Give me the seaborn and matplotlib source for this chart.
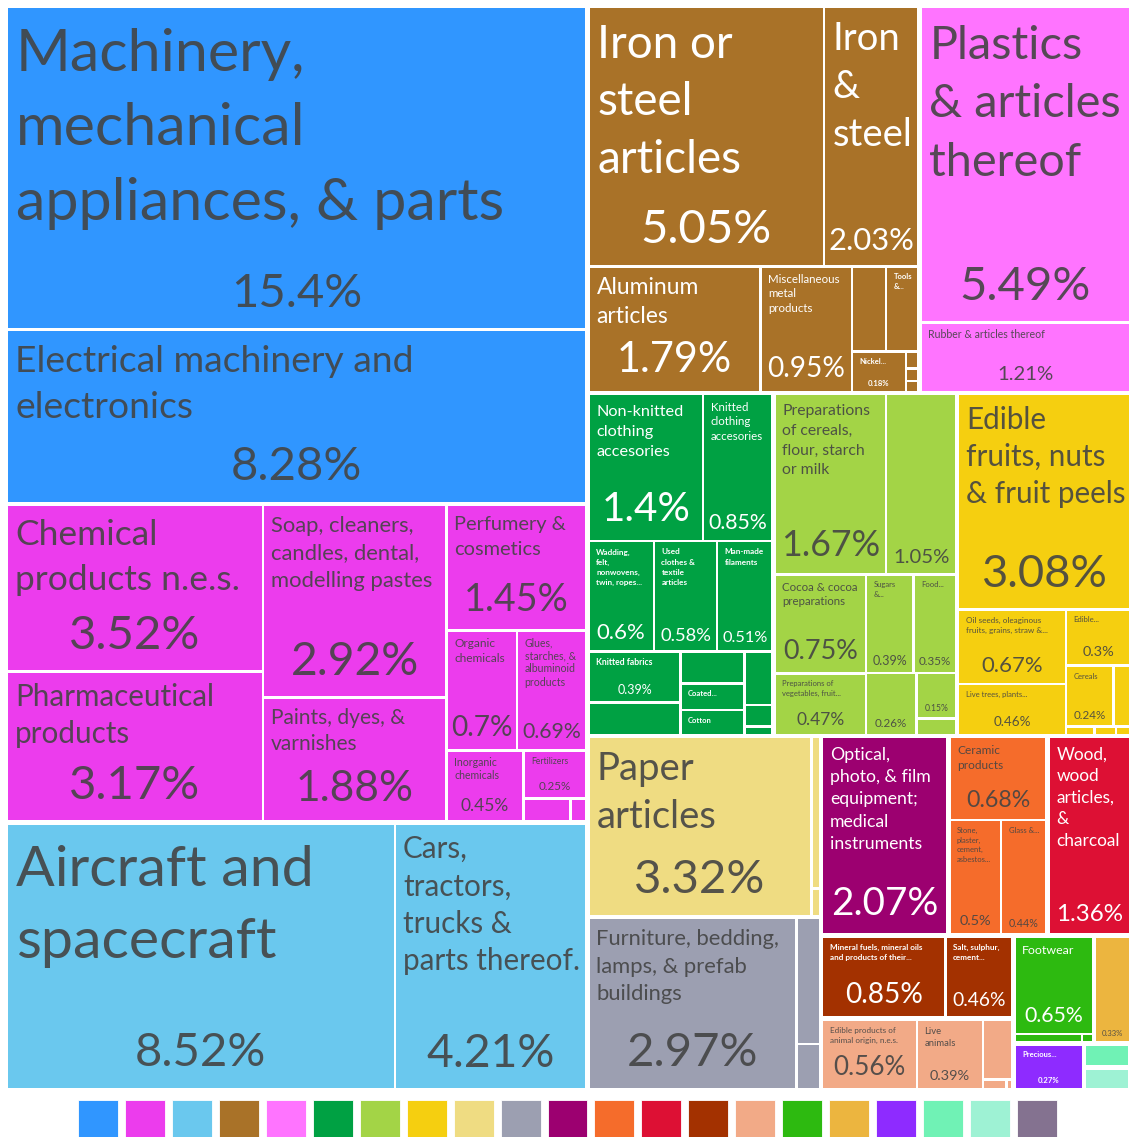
import matplotlib
matplotlib.use("Agg")
import matplotlib.pyplot as plt
import numpy as np
import pandas as pd
import seaborn as sns
from matplotlib.patches import Rectangle

# ---------------- data ----------------
sections = ["Machinery", "Chemical Products", "Transportation", "Metals",
            "Plastics and Rubbers", "Textiles", "Foodstuffs", "Vegetable Products",
            "Paper Goods", "Miscellaneous", "Instruments", "Stone And Glass",
            "Wood Products", "Mineral Products", "Animal Products",
            "Footwear and Headwear", "Animal Hides", "Precious Metals",
            "Arts and Antiques", "Weapons", "Animal and Vegetable Bi-Products"]
section_colors = ["#3096ff", "#ec3ced", "#6ac8ee", "#a97228", "#ff74ff", "#00a143",
                  "#a3d446", "#f5cf10", "#efdc82", "#9c9fb1", "#9c0070", "#f56c2b",
                  "#dd1034", "#a33100", "#f2aa87", "#2dba10", "#ecb53f", "#8e2bff",
                  "#70f2b5", "#9ef2d4", "#847290"]

machinery_names = ["Machinery, mechanical appliances, & parts",
                   "Electrical machinery and electronics"]
machinery_values = [15.4, 8.28]

chemical_names = ["Chemical products n.e.s.", "Pharmaceutical products",
                  "Soap, cleaners, candles, dental, modelling pastes",
                  "Paints, dyes, & varnishes", "Perfumery & cosmetics",
                  "Organic chemicals", "Glues, starches, & albuminoid products",
                  "Inorganic chemicals", "Fertilizers", "Explosives & pyrotechnics",
                  "Photographic goods"]
chemical_values = [3.52, 3.17, 2.92, 1.88, 1.45, 0.7, 0.69, 0.45, 0.25, 0.09, 0.03]

transport_names = ["Aircraft and spacecraft", "Cars, tractors, trucks & parts thereof."]
transport_values = [8.52, 4.21]

metal_names = ["Iron or steel articles", "Iron & steel", "Aluminum articles",
               "Miscellaneous metal products", "Copper articles",
               "Tools & cutlery of base metal", "Nickel & articles thereof",
               "Zinc articles", "Tin articles", "Lead articles"]
metal_values = [5.05, 2.03, 1.79, 0.95, 0.24, 0.23, 0.18, 0.018, 0.013, 0.012]

plastic_names = ["Plastics & articles thereof", "Rubber & articles thereof"]
plastic_values = [5.49, 1.21]

textile_names = ["Non-knitted clothing accesories", "Knitted clothing accesories",
                 "Wadding, felt, nonwovens, twine, ropes & cables",
                 "Used clothes & textile articles", "Man-made filaments",
                 "Knitted fabrics", "Man-made staple fibres", "Carpets",
                 "Coated, impregnated or laminated textile fabrics", "Cotton",
                 "Special woven fabrics", "Wool", "Silk"]
textile_values = [1.4, 0.85, 0.6, 0.58, 0.51, 0.39, 0.25, 0.17, 0.14, 0.135,
                  0.125, 0.05, 0.02]

foodstuff_names = ["Preparations of cereals, flour, starch or milk",
                   "Miscellaneous edible preparations", "Cocoa & cocoa preparations",
                   "Preparations of vegetables, fruit, nuts",
                   "Sugars & sugar confectionery",
                   "Food industry residues & animal fodder",
                   "Beverages, spirits & vinegar", "Preparations of meat & fish",
                   "Tobacco"]
foodstuff_values = [1.67, 1.05, 0.75, 0.47, 0.39, 0.35, 0.26, 0.15, 0.056]

vegetable_names = ["Edible fruits, nuts & fruit peels",
                   "Oil seeds, oleaginous fruits, grains, straw & fodder",
                   "Live trees, plants, bulbs, roots, cut flowers",
                   "Edible vegetables", "Cereals", "Coffee, tea, mate & spices",
                   "Milling products", "Lac, gums & resins", "Vegetable plaiting materials"]
vegetable_values = [3.08, 0.67, 0.46, 0.3, 0.24, 0.085, 0.02, 0.015, 0.01]

paper_names = ["Paper articles", "Printed books", "Pulp of wood"]
paper_values = [3.32, 0.11, 0.02]

misc_names = ["Furniture, bedding, lamps, & prefab buildings",
              "Miscellaneous manufactured articles", "Toys & sports equipment"]
misc_values = [2.97, 0.25, 0.09]

instrument_names = ["Optical, photo, & film equipment; medical instruments"]
instrument_values = [2.07]

stone_names = ["Ceramic products", "Stone, plaster, cement, asbestos & mica articles",
               "Glass & glassware"]
stone_values = [0.68, 0.5, 0.44]

wood_names = ["Wood, wood articles, & charcoal"]
wood_values = [1.36]

mineral_names = ["Mineral fuels, mineral oils and products of their distillation",
                 "Salt, sulphur, cement & lime"]
mineral_values = [0.85, 0.46]

animal_names = ["Edible products of animal origin, n.e.s.", "Live animals",
                "Meat & edible offal", "Dairy products", "Fish"]
animal_values = [0.56, 0.39, 0.15, 0.02, 0.005]

footwear_names = ["Footwear", "Headwear", "Umbrellas"]
footwear_values = [0.65, 0.05, 0.008]

hides_names = ["Raw hides, skins & leather articles"]
hides_values = [0.33]

precious_names = ["Precious stones & metals"]
precious_values = [0.27]

arts_names = ["Works of art & antiques"]
arts_values = [0.09]

weapons_names = ["Arms & ammunition"]
weapons_values = [0.085]

biproducts_names = ["Animal & vegetable fats and oils"]
biproducts_values = [0.005]

section_products = {
    "Machinery": (machinery_names, machinery_values),
    "Chemical Products": (chemical_names, chemical_values),
    "Transportation": (transport_names, transport_values),
    "Metals": (metal_names, metal_values),
    "Plastics and Rubbers": (plastic_names, plastic_values),
    "Textiles": (textile_names, textile_values),
    "Foodstuffs": (foodstuff_names, foodstuff_values),
    "Vegetable Products": (vegetable_names, vegetable_values),
    "Paper Goods": (paper_names, paper_values),
    "Miscellaneous": (misc_names, misc_values),
    "Instruments": (instrument_names, instrument_values),
    "Stone And Glass": (stone_names, stone_values),
    "Wood Products": (wood_names, wood_values),
    "Mineral Products": (mineral_names, mineral_values),
    "Animal Products": (animal_names, animal_values),
    "Footwear and Headwear": (footwear_names, footwear_values),
    "Animal Hides": (hides_names, hides_values),
    "Precious Metals": (precious_names, precious_values),
    "Arts and Antiques": (arts_names, arts_values),
    "Weapons": (weapons_names, weapons_values),
    "Animal and Vegetable Bi-Products": (biproducts_names, biproducts_values),
}

# ---------------- label presentation (text wrapping, font px) ----------------
label_style = {
    "Machinery, mechanical appliances, & parts": ("Machinery,\nmechanical\nappliances, & parts", 62, 49),
    "Electrical machinery and electronics": ("Electrical machinery and\nelectronics", 39, 49),
    "Chemical products n.e.s.": ("Chemical\nproducts n.e.s.", 37, 49),
    "Pharmaceutical products": ("Pharmaceutical\nproducts", 31, 49),
    "Soap, cleaners, candles, dental, modelling pastes": ("Soap, cleaners,\ncandles, dental,\nmodelling pastes", 23, 48),
    "Paints, dyes, & varnishes": ("Paints, dyes, &\nvarnishes", 22, 44),
    "Perfumery & cosmetics": ("Perfumery &\ncosmetics", 21, 39),
    "Organic chemicals": ("Organic\nchemicals", 12.5, 29),
    "Glues, starches, & albuminoid products": ("Glues,\nstarches, &\nalbuminoid\nproducts", 11, 22),
    "Inorganic chemicals": ("Inorganic\nchemicals", 11, 18),
    "Fertilizers": ("Fertilizers", 9, 12),
    "Aircraft and spacecraft": ("Aircraft and\nspacecraft", 60, 49),
    "Cars, tractors, trucks & parts thereof.": ("Cars,\ntractors,\ntrucks &\nparts thereof.", 31, 48),
    "Iron or steel articles": ("Iron or\nsteel\narticles", 48, 49),
    "Iron & steel": ("Iron\n&\nsteel", 40, 32),
    "Aluminum articles": ("Aluminum\narticles", 24, 43),
    "Miscellaneous metal products": ("Miscellaneous\nmetal\nproducts", 12, 29),
    "Tools & cutlery of base metal": ("Tools\n&...", 8, None),
    "Nickel & articles thereof": ("Nickel...", 8, 8),
    "Plastics & articles thereof": ("Plastics\n& articles\nthereof", 49, 49),
    "Rubber & articles thereof": ("Rubber & articles thereof", 11, 21),
    "Non-knitted clothing accesories": ("Non-knitted\nclothing\naccesories", 17, 42),
    "Knitted clothing accesories": ("Knitted\nclothing\naccesories", 12, 22),
    "Wadding, felt, nonwovens, twine, ropes & cables": ("Wadding,\nfelt,\nnonwovens,\ntwin, ropes...", 8.5, 23),
    "Used clothes & textile articles": ("Used\nclothes &\ntextile\narticles", 8.5, 19),
    "Man-made filaments": ("Man-made\nfilaments", 8.5, 17),
    "Knitted fabrics": ("Knitted fabrics", 9, 13),
    "Coated, impregnated or laminated textile fabrics": ("Coated...", 8, None),
    "Cotton": ("Cotton", 8, None),
    "Preparations of cereals, flour, starch or milk": ("Preparations\nof cereals,\nflour, starch\nor milk", 16.5, 37),
    "Miscellaneous edible preparations": (None, None, 21),
    "Cocoa & cocoa preparations": ("Cocoa & cocoa\npreparations", 12, 28),
    "Sugars & sugar confectionery": ("Sugars\n&...", 8, 13),
    "Food industry residues & animal fodder": ("Food...", 8, 12),
    "Preparations of vegetables, fruit, nuts": ("Preparations of\nvegetables, fruit...", 8, 18),
    "Beverages, spirits & vinegar": (None, None, 12),
    "Preparations of meat & fish": (None, None, 9),
    "Edible fruits, nuts & fruit peels": ("Edible\nfruits, nuts\n& fruit peels", 31, 47),
    "Oil seeds, oleaginous fruits, grains, straw & fodder": ("Oil seeds, oleaginous\nfruits, grains, straw &...", 8.5, 23),
    "Edible vegetables": ("Edible...", 8, 15),
    "Live trees, plants, bulbs, roots, cut flowers": ("Live trees, plants...", 8, 14),
    "Cereals": ("Cereals", 8, 12),
    "Paper articles": ("Paper\narticles", 40, 49),
    "Furniture, bedding, lamps, & prefab buildings": ("Furniture, bedding,\nlamps, & prefab\nbuildings", 23, 49),
    "Optical, photo, & film equipment; medical instruments": ("Optical,\nphoto, & film\nequipment;\nmedical\ninstruments", 18.5, 40),
    "Ceramic products": ("Ceramic\nproducts", 12.5, 24),
    "Stone, plaster, cement, asbestos & mica articles": ("Stone,\nplaster,\ncement,\nasbestos...", 8, 15),
    "Glass & glassware": ("Glass &...", 8, 11),
    "Wood, wood articles, & charcoal": ("Wood,\nwood\narticles,\n&\ncharcoal", 18, 25),
    "Mineral fuels, mineral oils and products of their distillation": ("Mineral fuels, mineral oils\nand products of their...", 8.5, 29),
    "Salt, sulphur, cement & lime": ("Salt, sulphur,\ncement...", 8.5, 20),
    "Edible products of animal origin, n.e.s.": ("Edible products of\nanimal origin, n.e.s.", 8.5, 27),
    "Live animals": ("Live\nanimals", 10, 15),
    "Footwear": ("Footwear", 13, 22),
    "Raw hides, skins & leather articles": (None, None, 8),
    "Precious stones & metals": ("Precious...", 8, 8),
}
NAME_SCALE, VALUE_SCALE = 0.955, 0.965

# ---------------- layout helpers ----------------
PHI = (1 + 5 ** 0.5) / 2


def squarify(values, x0, y0, x1, y1, ratio=PHI):
    """d3.treemapSquarify port; values sorted descending; y grows downward."""
    n = len(values)
    rects = [None] * n
    value = float(sum(values))
    i0 = i1 = 0
    while i0 < n:
        dx, dy = x1 - x0, y1 - y0
        sumv = values[i1]
        i1 += 1
        minv = maxv = sumv
        if dx <= 0 or dy <= 0 or value <= 0:
            for i in range(i0, n):
                rects[i] = (x0, y0, max(x0, x1), max(y0, y1))
            break
        alpha = max(dy / dx, dx / dy) / (value * ratio)
        beta = sumv * sumv * alpha
        minr = max(maxv / beta, beta / minv)
        while i1 < n:
            nv = values[i1]
            sumv += nv
            mn, mx = min(minv, nv), max(maxv, nv)
            beta = sumv * sumv * alpha
            newr = max(mx / beta, beta / mn)
            if newr > minr:
                sumv -= nv
                break
            minv, maxv, minr = mn, mx, newr
            i1 += 1
        if dx < dy:
            yb = y0 + dy * sumv / value
            xx = x0
            for i in range(i0, i1):
                w = dx * values[i] / sumv
                rects[i] = (xx, y0, xx + w, yb)
                xx += w
            y0 = yb
        else:
            xb = x0 + dx * sumv / value
            yy = y0
            for i in range(i0, i1):
                h = dy * values[i] / sumv
                rects[i] = (x0, yy, xb, yy + h)
                yy += h
            x0 = xb
        value -= sumv
        i0 = i1
    return rects


def shrink(r, p):
    x0, y0, x1, y1 = r
    x0, x1 = (x0 + p, x1 - p) if x1 - x0 > 2 * p else ((x0 + x1) / 2,) * 2
    y0, y1 = (y0 + p, y1 - p) if y1 - y0 > 2 * p else ((y0 + y1) / 2,) * 2
    return (x0, y0, x1, y1)


def text_color(hexc):
    r, g, b = [int(hexc[i:i + 2], 16) for i in (1, 3, 5)]
    return "#444444" if (r * 299 + g * 587 + b * 114) / 1000 >= 128 else "#ffffff"


# ---------------- figure ----------------
sns.set_theme(style="white")
plt.rcParams["font.family"] = ["Lato", "DejaVu Sans"]

W, H = 1129, 1137
fig = plt.figure(figsize=(W / 100, H / 100), dpi=100)
ax = fig.add_axes([0, 0, 1, 1])
ax.set_xlim(0, W)
ax.set_ylim(H, 0)
ax.axis("off")

PX2PT = 72 / 100
SEC_PAD, CELL_PAD = 2.25, 1.25

rows = []
for s in sections:
    names, vals = section_products[s]
    for nme, v in zip(names, vals):
        rows.append((s, nme, v))
df = pd.DataFrame(rows, columns=["section", "product", "value"])
color_of = dict(zip(sections, section_colors))

sec_tot = df.groupby("section")["value"].sum().sort_values(ascending=False)
sec_rects = squarify(list(sec_tot.values), 5.75, 5.75, 1131.25, 1090.25)

for sec, srect in zip(sec_tot.index, sec_rects):
    sr = shrink(srect, SEC_PAD)
    sub = df[df.section == sec].sort_values("value", ascending=False)
    crects = squarify(list(sub.value), sr[0] - CELL_PAD, sr[1] - CELL_PAD,
                      sr[2] + CELL_PAD, sr[3] + CELL_PAD)
    col = color_of[sec]
    tc = text_color(col)
    light = tc == "#ffffff"
    for (_, row), cr in zip(sub.iterrows(), crects):
        x0, y0, x1, y1 = shrink(cr, CELL_PAD)
        if x1 - x0 <= 0 or y1 - y0 <= 0:
            continue
        ax.add_patch(Rectangle((x0, y0), x1 - x0, y1 - y0, facecolor=col,
                               edgecolor="none"))
        st = label_style.get(row["product"])
        if st is None:
            continue
        txt, npx, vpx = st
        if txt:
            fw = "bold" if (light and npx <= 9) else "normal"
            for i, line in enumerate(txt.split("\n")):
                ax.text(x0 + 6 + 0.03 * npx, y0 + 4 + 0.95 * npx + i * 1.2 * npx, line,
                        ha="left", va="baseline", fontsize=npx * NAME_SCALE * PX2PT,
                        color=tc, alpha=1.0 if light else 0.9, fontweight=fw)
        if vpx:
            fw = "bold" if (light and vpx <= 9) else "normal"
            ax.text((x0 + x1) / 2, y1 - 0.4 * vpx - 2, f"{row['value']:.3g}%",
                    ha="center", va="baseline", fontsize=vpx * VALUE_SCALE * PX2PT,
                    color=tc, alpha=1.0 if light else 0.9, fontweight=fw)

# ---------------- legend of colour squares ----------------
pitch = 46.95
lx0 = 98 - pitch / 2
lax = fig.add_axes([lx0 / W, (H - 1140) / H, len(sections) * pitch / W, 40 / H])
leg = pd.DataFrame({"section": sections, "one": [1] * len(sections)})
sns.barplot(data=leg, x="section", y="one", hue="section", palette=section_colors,
            saturation=1, width=0.85, legend=False, ax=lax, edgecolor="white",
            linewidth=0.6)
lax.set_xlim(-0.5, len(sections) - 0.5)
lax.set_ylim(0, 1)
lax.axis("off")

fig.savefig("out.png", dpi=100)
